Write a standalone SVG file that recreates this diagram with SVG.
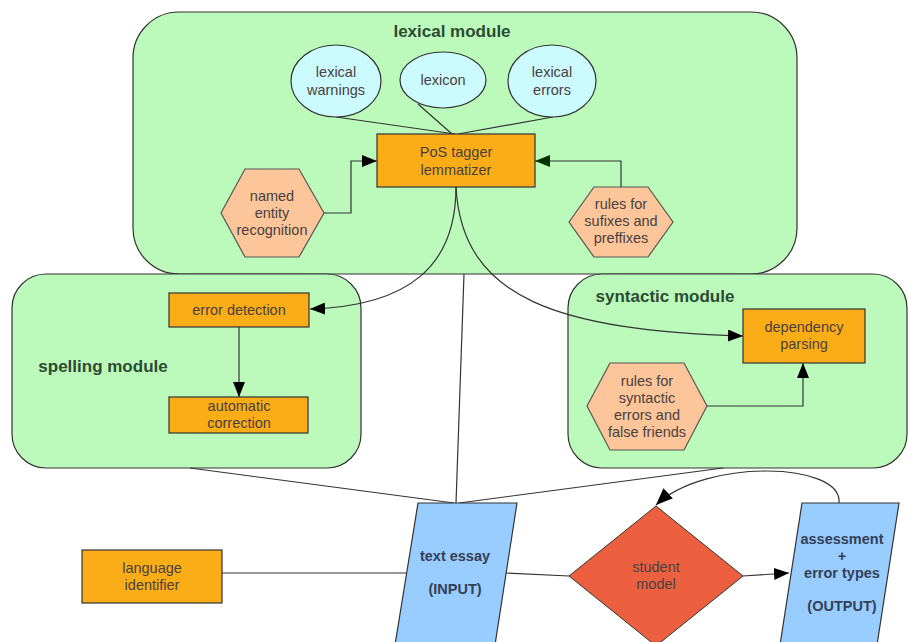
<svg xmlns="http://www.w3.org/2000/svg" width="908" height="642" viewBox="0 0 908 642">
<defs>
<style>
.module{fill:#bcfabc;stroke:#333;stroke-width:1.2}
.box{fill:#fbad18;stroke:#333;stroke-width:1.2}
.hex{fill:#fcc69a;stroke:#555;stroke-width:1.2}
.ell{fill:#ccfbff;stroke:#333;stroke-width:1.2}
.io{fill:#99ccff;stroke:#333;stroke-width:1.2}
.dia{fill:#ec6040;stroke:#333;stroke-width:1}
.t{font-family:"Liberation Sans",Arial,sans-serif;font-size:14.5px;fill:#4a4040;text-anchor:middle}
.tb{font-family:"Liberation Sans",Arial,sans-serif;font-size:14.5px;font-weight:bold;fill:#334055;text-anchor:middle}
.title{font-family:"Liberation Sans",Arial,sans-serif;font-size:17px;font-weight:bold;fill:#2d4a32;text-anchor:middle}
.ln{fill:none;stroke:#333;stroke-width:1.2}
</style>
<marker id="ah" markerUnits="userSpaceOnUse" markerWidth="16" markerHeight="12" refX="15" refY="6" orient="auto"><path d="M0,0 L15,6 L0,12 Z" fill="#000"/></marker>
<marker id="ahg" markerUnits="userSpaceOnUse" markerWidth="16" markerHeight="12" refX="15" refY="6" orient="auto"><path d="M0,0 L15,6 L0,12 Z" fill="#003300"/></marker>
<marker id="ahb" markerUnits="userSpaceOnUse" markerWidth="18" markerHeight="14" refX="17" refY="7" orient="auto"><path d="M0,0 L17,7 L0,14 Z" fill="#000"/></marker>
</defs>
<rect width="908" height="642" fill="#fff"/>

<g id="lexical-module">
<rect class="module" x="133" y="12" width="664" height="262" rx="46"/>
<text class="title" x="452" y="37">lexical module</text>
</g>
<g id="spelling-module">
<rect class="module" x="12" y="274" width="349" height="194" rx="34"/>
<text class="title" x="103" y="372">spelling module</text>
</g>
<g id="syntactic-module">
<rect class="module" x="568" y="274" width="339" height="194" rx="34"/>
<text class="title" x="665" y="302">syntactic module</text>
</g>

<g id="connectors">
<path class="ln" d="M336,117 L455,134"/>
<path class="ln" d="M418,104 L452,134"/>
<path class="ln" d="M553,117 L458,134"/>
<path class="ln" d="M324,213 H351 V161 H377" marker-end="url(#ah)"/>
<path class="ln" d="M621,187 V161 H535" stroke="#003300" marker-end="url(#ahg)"/>
<path class="ln" d="M456,187 C456,265 410,306 310,309" marker-end="url(#ah)"/>
<path class="ln" d="M456,187 C462,300 560,330 743,336" marker-end="url(#ah)"/>
<path class="ln" d="M239,327 V397" marker-end="url(#ah)"/>
<path class="ln" d="M707,406 H803 V363" stroke-width="1.6" marker-end="url(#ah)"/>
<path class="ln" d="M464,274 L456,503"/>
<path class="ln" d="M190,468 L454,503"/>
<path class="ln" d="M723,468 L459,503"/>
<path class="ln" d="M222,573 H407"/>
<path class="ln" d="M505,573 L569,576"/>
<path class="ln" d="M743,576 L789,573" marker-end="url(#ah)"/>
<path class="ln" d="M839,503 C843,462 705,458 656,505" stroke="#000" stroke-width="2.6" marker-end="url(#ahb)"/>
</g>

<g id="lexical-warnings">
<ellipse class="ell" cx="336" cy="81" rx="45" ry="36"/>
<text class="t" x="336" y="77">lexical</text>
<text class="t" x="336" y="95">warnings</text>
</g>
<g id="lexicon">
<ellipse class="ell" cx="443" cy="80" rx="43" ry="28"/>
<text class="t" x="443" y="85">lexicon</text>
</g>
<g id="lexical-errors">
<ellipse class="ell" cx="552" cy="81" rx="44" ry="36"/>
<text class="t" x="552" y="77">lexical</text>
<text class="t" x="552" y="95">errors</text>
</g>
<g id="pos-tagger">
<rect class="box" x="377" y="134" width="158" height="53"/>
<text class="t" x="456" y="157">PoS tagger</text>
<text class="t" x="456" y="175">lemmatizer</text>
</g>
<g id="named-entity">
<polygon class="hex" points="221,213 245,169 299,169 324,213 299,257 245,257"/>
<text class="t" x="272" y="201">named</text>
<text class="t" x="272" y="218">entity</text>
<text class="t" x="272" y="235">recognition</text>
</g>
<g id="rules-sufixes">
<polygon class="hex" points="569,222 594,187 648,187 673,222 648,257 594,257"/>
<text class="t" x="621" y="209">rules for</text>
<text class="t" x="621" y="226">sufixes and</text>
<text class="t" x="621" y="243">preffixes</text>
</g>
<g id="error-detection">
<rect class="box" x="169" y="293" width="140" height="34"/>
<text class="t" x="239" y="315">error detection</text>
</g>
<g id="automatic-correction">
<rect class="box" x="169" y="397" width="139" height="36"/>
<text class="t" x="239" y="411">automatic</text>
<text class="t" x="239" y="428">correction</text>
</g>
<g id="dependency-parsing">
<rect class="box" x="743" y="309" width="122" height="54"/>
<text class="t" x="804" y="332">dependency</text>
<text class="t" x="804" y="349">parsing</text>
</g>
<g id="rules-syntactic">
<polygon class="hex" points="587,406 610,363 684,363 707,406 684,450 610,450"/>
<text class="t" x="647" y="386">rules for</text>
<text class="t" x="647" y="403">syntactic</text>
<text class="t" x="647" y="420">errors and</text>
<text class="t" x="647" y="437">false friends</text>
</g>
<g id="language-identifier">
<rect class="box" x="82" y="550" width="140" height="53"/>
<text class="t" x="152" y="573">language</text>
<text class="t" x="152" y="590">identifier</text>
</g>
<g id="text-essay">
<polygon class="io" points="418,503 517,503 495,645 395,645"/>
<text class="tb" x="455" y="561">text essay</text>
<text class="tb" x="455" y="594">(INPUT)</text>
</g>
<g id="student-model">
<polygon class="dia" points="656,506 743,576 656,646 569,576"/>
<text class="t" x="656" y="572">student</text>
<text class="t" x="656" y="589">model</text>
</g>
<g id="output">
<polygon class="io" points="802,503 899,503 877,645 780,645"/>
<text class="tb" x="842" y="544">assessment</text>
<text class="tb" x="842" y="561">+</text>
<text class="tb" x="842" y="578">error types</text>
<text class="tb" x="842" y="611">(OUTPUT)</text>
</g>
</svg>
